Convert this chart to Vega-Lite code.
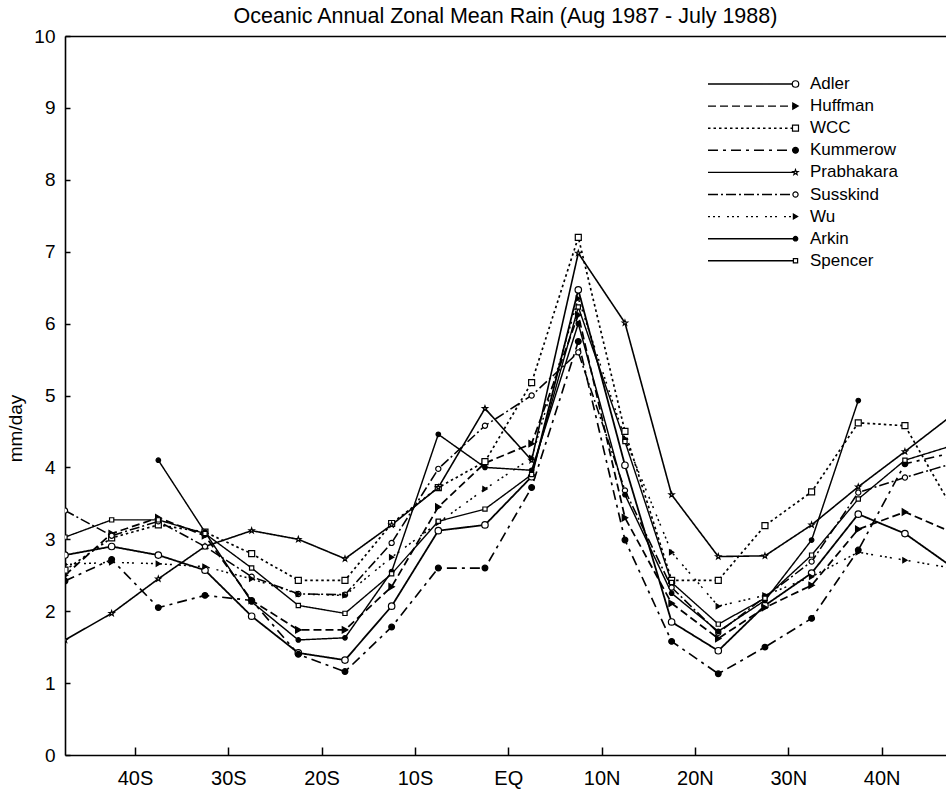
{
  "$schema": "https://vega.github.io/schema/vega-lite/v6.json",
  "width": 881,
  "height": 719,
  "autosize": {"type": "none"},
  "padding": {"left": 65, "top": 36, "right": 0, "bottom": 40},
  "background": "white",
  "title": {
    "text": "Oceanic Annual Zonal Mean Rain (Aug 1987 - July 1988)",
    "fontSize": 21.5,
    "fontWeight": "normal",
    "font": "Liberation Sans",
    "color": "black",
    "anchor": "middle",
    "offset": 0
  },
  "config": {
    "font": "Liberation Sans",
    "view": {"stroke": null},
    "axis": {
      "domainColor": "black",
      "domainWidth": 1.6,
      "tickColor": "black",
      "tickWidth": 1.5,
      "labelColor": "black",
      "labelFont": "Liberation Sans",
      "titleColor": "black",
      "titleFont": "Liberation Sans",
      "titleFontWeight": "normal",
      "grid": false
    }
  },
  "resolve": {"legend": {"shape": "independent", "fill": "independent", "size": "independent"}},
  "datasets": {
    "rain": [
      {"series": "Adler", "lat": -47.5, "rain": 2.78}, {"series": "Adler", "lat": -42.5, "rain": 2.90}, {"series": "Adler", "lat": -37.5, "rain": 2.78}, {"series": "Adler", "lat": -32.5, "rain": 2.57}, {"series": "Adler", "lat": -27.5, "rain": 1.93}, {"series": "Adler", "lat": -22.5, "rain": 1.42}, {"series": "Adler", "lat": -17.5, "rain": 1.32}, {"series": "Adler", "lat": -12.5, "rain": 2.07}, {"series": "Adler", "lat": -7.5, "rain": 3.12}, {"series": "Adler", "lat": -2.5, "rain": 3.20}, {"series": "Adler", "lat": 2.5, "rain": 3.87}, {"series": "Adler", "lat": 7.5, "rain": 6.47}, {"series": "Adler", "lat": 12.5, "rain": 4.03}, {"series": "Adler", "lat": 17.5, "rain": 1.85}, {"series": "Adler", "lat": 22.5, "rain": 1.45}, {"series": "Adler", "lat": 27.5, "rain": 2.08}, {"series": "Adler", "lat": 32.5, "rain": 2.53}, {"series": "Adler", "lat": 37.5, "rain": 3.35}, {"series": "Adler", "lat": 42.5, "rain": 3.08}, {"series": "Adler", "lat": 47.5, "rain": 2.62},
      {"series": "Huffman", "lat": -47.5, "rain": 2.50}, {"series": "Huffman", "lat": -42.5, "rain": 3.08}, {"series": "Huffman", "lat": -37.5, "rain": 3.30}, {"series": "Huffman", "lat": -32.5, "rain": 3.05}, {"series": "Huffman", "lat": -27.5, "rain": 2.15}, {"series": "Huffman", "lat": -22.5, "rain": 1.74}, {"series": "Huffman", "lat": -17.5, "rain": 1.74}, {"series": "Huffman", "lat": -12.5, "rain": 2.34}, {"series": "Huffman", "lat": -7.5, "rain": 3.45}, {"series": "Huffman", "lat": -2.5, "rain": 4.06}, {"series": "Huffman", "lat": 2.5, "rain": 4.33}, {"series": "Huffman", "lat": 7.5, "rain": 6.12}, {"series": "Huffman", "lat": 12.5, "rain": 3.30}, {"series": "Huffman", "lat": 17.5, "rain": 2.11}, {"series": "Huffman", "lat": 22.5, "rain": 1.62}, {"series": "Huffman", "lat": 27.5, "rain": 2.05}, {"series": "Huffman", "lat": 32.5, "rain": 2.36}, {"series": "Huffman", "lat": 37.5, "rain": 3.14}, {"series": "Huffman", "lat": 42.5, "rain": 3.38}, {"series": "Huffman", "lat": 47.5, "rain": 3.10},
      {"series": "WCC", "lat": -47.5, "rain": 2.57}, {"series": "WCC", "lat": -42.5, "rain": 3.02}, {"series": "WCC", "lat": -37.5, "rain": 3.20}, {"series": "WCC", "lat": -32.5, "rain": 3.10}, {"series": "WCC", "lat": -27.5, "rain": 2.80}, {"series": "WCC", "lat": -22.5, "rain": 2.43}, {"series": "WCC", "lat": -17.5, "rain": 2.43}, {"series": "WCC", "lat": -12.5, "rain": 3.22}, {"series": "WCC", "lat": -7.5, "rain": 3.72}, {"series": "WCC", "lat": -2.5, "rain": 4.08}, {"series": "WCC", "lat": 2.5, "rain": 5.18}, {"series": "WCC", "lat": 7.5, "rain": 7.20}, {"series": "WCC", "lat": 12.5, "rain": 4.50}, {"series": "WCC", "lat": 17.5, "rain": 2.43}, {"series": "WCC", "lat": 22.5, "rain": 2.43}, {"series": "WCC", "lat": 27.5, "rain": 3.19}, {"series": "WCC", "lat": 32.5, "rain": 3.66}, {"series": "WCC", "lat": 37.5, "rain": 4.62}, {"series": "WCC", "lat": 42.5, "rain": 4.58}, {"series": "WCC", "lat": 47.5, "rain": 3.45},
      {"series": "Kummerow", "lat": -47.5, "rain": 2.42}, {"series": "Kummerow", "lat": -42.5, "rain": 2.72}, {"series": "Kummerow", "lat": -37.5, "rain": 2.05}, {"series": "Kummerow", "lat": -32.5, "rain": 2.22}, {"series": "Kummerow", "lat": -27.5, "rain": 2.15}, {"series": "Kummerow", "lat": -22.5, "rain": 1.40}, {"series": "Kummerow", "lat": -17.5, "rain": 1.16}, {"series": "Kummerow", "lat": -12.5, "rain": 1.78}, {"series": "Kummerow", "lat": -7.5, "rain": 2.60}, {"series": "Kummerow", "lat": -2.5, "rain": 2.60}, {"series": "Kummerow", "lat": 2.5, "rain": 3.72}, {"series": "Kummerow", "lat": 7.5, "rain": 5.75}, {"series": "Kummerow", "lat": 12.5, "rain": 2.99}, {"series": "Kummerow", "lat": 17.5, "rain": 1.58}, {"series": "Kummerow", "lat": 22.5, "rain": 1.13}, {"series": "Kummerow", "lat": 27.5, "rain": 1.50}, {"series": "Kummerow", "lat": 32.5, "rain": 1.90}, {"series": "Kummerow", "lat": 37.5, "rain": 2.85}, {"series": "Kummerow", "lat": 42.5, "rain": 4.05}, {"series": "Kummerow", "lat": 47.5, "rain": 4.20},
      {"series": "Prabhakara", "lat": -47.5, "rain": 1.60}, {"series": "Prabhakara", "lat": -42.5, "rain": 1.97}, {"series": "Prabhakara", "lat": -37.5, "rain": 2.45}, {"series": "Prabhakara", "lat": -32.5, "rain": 2.90}, {"series": "Prabhakara", "lat": -27.5, "rain": 3.12}, {"series": "Prabhakara", "lat": -22.5, "rain": 3.00}, {"series": "Prabhakara", "lat": -17.5, "rain": 2.73}, {"series": "Prabhakara", "lat": -12.5, "rain": 3.20}, {"series": "Prabhakara", "lat": -7.5, "rain": 3.72}, {"series": "Prabhakara", "lat": -2.5, "rain": 4.82}, {"series": "Prabhakara", "lat": 2.5, "rain": 4.10}, {"series": "Prabhakara", "lat": 7.5, "rain": 6.98}, {"series": "Prabhakara", "lat": 12.5, "rain": 6.01}, {"series": "Prabhakara", "lat": 17.5, "rain": 3.62}, {"series": "Prabhakara", "lat": 22.5, "rain": 2.76}, {"series": "Prabhakara", "lat": 27.5, "rain": 2.77}, {"series": "Prabhakara", "lat": 32.5, "rain": 3.20}, {"series": "Prabhakara", "lat": 37.5, "rain": 3.73}, {"series": "Prabhakara", "lat": 42.5, "rain": 4.22}, {"series": "Prabhakara", "lat": 47.5, "rain": 4.72},
      {"series": "Susskind", "lat": -47.5, "rain": 3.40}, {"series": "Susskind", "lat": -42.5, "rain": 3.05}, {"series": "Susskind", "lat": -37.5, "rain": 3.25}, {"series": "Susskind", "lat": -32.5, "rain": 2.90}, {"series": "Susskind", "lat": -27.5, "rain": 2.48}, {"series": "Susskind", "lat": -22.5, "rain": 2.24}, {"series": "Susskind", "lat": -17.5, "rain": 2.23}, {"series": "Susskind", "lat": -12.5, "rain": 2.95}, {"series": "Susskind", "lat": -7.5, "rain": 3.98}, {"series": "Susskind", "lat": -2.5, "rain": 4.58}, {"series": "Susskind", "lat": 2.5, "rain": 5.00}, {"series": "Susskind", "lat": 7.5, "rain": 5.60}, {"series": "Susskind", "lat": 12.5, "rain": 3.68}, {"series": "Susskind", "lat": 17.5, "rain": 2.33}, {"series": "Susskind", "lat": 22.5, "rain": 1.70}, {"series": "Susskind", "lat": 27.5, "rain": 2.20}, {"series": "Susskind", "lat": 32.5, "rain": 2.69}, {"series": "Susskind", "lat": 37.5, "rain": 3.65}, {"series": "Susskind", "lat": 42.5, "rain": 3.86}, {"series": "Susskind", "lat": 47.5, "rain": 4.05},
      {"series": "Wu", "lat": -47.5, "rain": 2.65}, {"series": "Wu", "lat": -42.5, "rain": 2.68}, {"series": "Wu", "lat": -37.5, "rain": 2.66}, {"series": "Wu", "lat": -32.5, "rain": 2.62}, {"series": "Wu", "lat": -27.5, "rain": 2.45}, {"series": "Wu", "lat": -22.5, "rain": 2.24}, {"series": "Wu", "lat": -17.5, "rain": 2.22}, {"series": "Wu", "lat": -12.5, "rain": 2.75}, {"series": "Wu", "lat": -7.5, "rain": 3.23}, {"series": "Wu", "lat": -2.5, "rain": 3.70}, {"series": "Wu", "lat": 2.5, "rain": 4.13}, {"series": "Wu", "lat": 7.5, "rain": 6.35}, {"series": "Wu", "lat": 12.5, "rain": 4.40}, {"series": "Wu", "lat": 17.5, "rain": 2.82}, {"series": "Wu", "lat": 22.5, "rain": 2.07}, {"series": "Wu", "lat": 27.5, "rain": 2.22}, {"series": "Wu", "lat": 32.5, "rain": 2.48}, {"series": "Wu", "lat": 37.5, "rain": 2.82}, {"series": "Wu", "lat": 42.5, "rain": 2.71}, {"series": "Wu", "lat": 47.5, "rain": 2.60},
      {"series": "Arkin", "lat": -37.5, "rain": 4.10}, {"series": "Arkin", "lat": -32.5, "rain": 3.10}, {"series": "Arkin", "lat": -27.5, "rain": 2.13}, {"series": "Arkin", "lat": -22.5, "rain": 1.60}, {"series": "Arkin", "lat": -17.5, "rain": 1.63}, {"series": "Arkin", "lat": -12.5, "rain": 2.55}, {"series": "Arkin", "lat": -7.5, "rain": 4.46}, {"series": "Arkin", "lat": -2.5, "rain": 4.00}, {"series": "Arkin", "lat": 2.5, "rain": 3.96}, {"series": "Arkin", "lat": 7.5, "rain": 6.00}, {"series": "Arkin", "lat": 12.5, "rain": 3.62}, {"series": "Arkin", "lat": 17.5, "rain": 2.25}, {"series": "Arkin", "lat": 22.5, "rain": 1.72}, {"series": "Arkin", "lat": 27.5, "rain": 2.15}, {"series": "Arkin", "lat": 32.5, "rain": 2.99}, {"series": "Arkin", "lat": 37.5, "rain": 4.93},
      {"series": "Spencer", "lat": -47.5, "rain": 3.03}, {"series": "Spencer", "lat": -42.5, "rain": 3.27}, {"series": "Spencer", "lat": -37.5, "rain": 3.27}, {"series": "Spencer", "lat": -32.5, "rain": 3.08}, {"series": "Spencer", "lat": -27.5, "rain": 2.60}, {"series": "Spencer", "lat": -22.5, "rain": 2.08}, {"series": "Spencer", "lat": -17.5, "rain": 1.97}, {"series": "Spencer", "lat": -12.5, "rain": 2.52}, {"series": "Spencer", "lat": -7.5, "rain": 3.25}, {"series": "Spencer", "lat": -2.5, "rain": 3.42}, {"series": "Spencer", "lat": 2.5, "rain": 3.90}, {"series": "Spencer", "lat": 7.5, "rain": 6.23}, {"series": "Spencer", "lat": 12.5, "rain": 4.36}, {"series": "Spencer", "lat": 17.5, "rain": 2.40}, {"series": "Spencer", "lat": 22.5, "rain": 1.82}, {"series": "Spencer", "lat": 27.5, "rain": 2.18}, {"series": "Spencer", "lat": 32.5, "rain": 2.78}, {"series": "Spencer", "lat": 37.5, "rain": 3.56}, {"series": "Spencer", "lat": 42.5, "rain": 4.10}, {"series": "Spencer", "lat": 47.5, "rain": 4.30}
    ]
  },
  "data": {"name": "rain"},
  "layer": [
    {
      "mark": {"type": "line", "clip": true, "color": "black"},
      "encoding": {
        "x": {
          "field": "lat", "type": "quantitative",
          "scale": {"domain": [-47.5, 46.9], "nice": false, "zero": false},
          "axis": {
            "orient": "bottom", "title": null,
            "values": [-40, -30, -20, -10, 0, 10, 20, 30, 40],
            "labelExpr": "datum.value == 0 ? 'EQ' : (datum.value < 0 ? (-datum.value) + 'S' : datum.value + 'N')",
            "tickSize": -8, "labelPadding": 21, "labelFlush": false, "labelFontSize": 20
          }
        },
        "y": {
          "field": "rain", "type": "quantitative",
          "scale": {"domain": [0, 10], "nice": false, "zero": true},
          "axis": {
            "orient": "left", "title": "mm/day", "titleFontSize": 19,
            "titleX": -44, "titleY": 392, "titleAngle": 270, "titleAlign": "center", "titleBaseline": "alphabetic",
            "values": [0, 1, 2, 3, 4, 5, 6, 7, 8, 9, 10],
            "tickSize": -5, "labelPadding": 15, "labelFlush": false, "labelFontSize": 19
          }
        },
        "detail": {"field": "series", "type": "nominal"},
        "strokeDash": {
          "field": "series", "type": "nominal",
          "scale": {"range": [[1, 0], [1, 0], [8, 4], [10, 5, 3, 5], [1, 0], [1, 0], [10, 3, 2, 3], [2.5, 3], [2, 3, 2, 3, 2, 7]]},
          "legend": {
            "values": ["Adler", "Huffman", "WCC", "Kummerow", "Prabhakara", "Susskind", "Wu", "Arkin", "Spencer"],
            "orient": "none", "legendX": 642, "legendY": 40, "title": null, "padding": 0,
            "symbolType": "stroke", "symbolSize": 7921, "symbolStrokeColor": "black", "symbolStrokeWidth": 1.4,
            "clipHeight": 16, "rowPadding": 5.1, "labelFontSize": 17, "labelOffset": 12,
            "labelColor": "black", "labelFont": "Liberation Sans"
          }
        },
        "strokeWidth": {
          "field": "series", "type": "nominal",
          "scale": {"domain": ["Adler", "Huffman", "WCC", "Kummerow", "Prabhakara", "Susskind", "Wu", "Arkin", "Spencer"], "range": [1.8, 1.4, 1.4, 1.4, 1.1, 1.4, 1.3, 1.8, 2.4]},
          "legend": null
        }
      }
    },
    {
      "mark": {"type": "point", "clip": true, "filled": true, "stroke": "black", "strokeWidth": 1.2, "opacity": 1},
      "encoding": {
        "x": {
          "field": "lat", "type": "quantitative",
          "axis": {"orient": "top", "title": null, "labels": false, "ticks": false, "domain": true}
        },
        "y": {
          "field": "rain", "type": "quantitative",
          "axis": {
            "orient": "left", "title": "mm/day", "titleFontSize": 19,
            "titleX": -44, "titleY": 392, "titleAngle": 270, "titleAlign": "center", "titleBaseline": "alphabetic",
            "values": [0, 1, 2, 3, 4, 5, 6, 7, 8, 9, 10],
            "tickSize": -5, "labelPadding": 15, "labelFlush": false, "labelFontSize": 19
          }
        },
        "shape": {
          "field": "series", "type": "nominal",
          "scale": {
            "domain": ["Adler", "Huffman", "WCC", "Kummerow", "Prabhakara", "Susskind", "Wu", "Arkin", "Spencer"],
            "range": ["circle", "triangle-right", "square", "circle", "M0,-1L0.235,-0.324L0.951,-0.309L0.38,0.124L0.588,0.809L0,0.4L-0.588,0.809L-0.38,0.124L-0.951,-0.309L-0.235,-0.324Z", "circle", "triangle-right", "circle", "square"]
          },
          "legend": {
            "orient": "none", "legendX": 722, "legendY": 40, "title": null, "padding": 0,
            "clipHeight": 16, "rowPadding": 5.1, "labelFontSize": 17, "labelExpr": "''",
            "symbolStrokeColor": "black", "symbolStrokeWidth": 1.2, "symbolOpacity": 1
          }
        },
        "size": {
          "field": "series", "type": "nominal",
          "scale": {"domain": ["Adler", "Huffman", "WCC", "Kummerow", "Prabhakara", "Susskind", "Wu", "Arkin", "Spencer"], "range": [42, 18, 45, 14, 70, 42, 10, 10, 55]}
        },
        "fill": {
          "field": "series", "type": "nominal",
          "scale": {"domain": ["Adler", "Huffman", "WCC", "Kummerow", "Prabhakara", "Susskind", "Wu", "Arkin", "Spencer"], "range": ["white", "black", "white", "black", "white", "white", "black", "black", "white"]}
        }
      }
    }
  ]
}
